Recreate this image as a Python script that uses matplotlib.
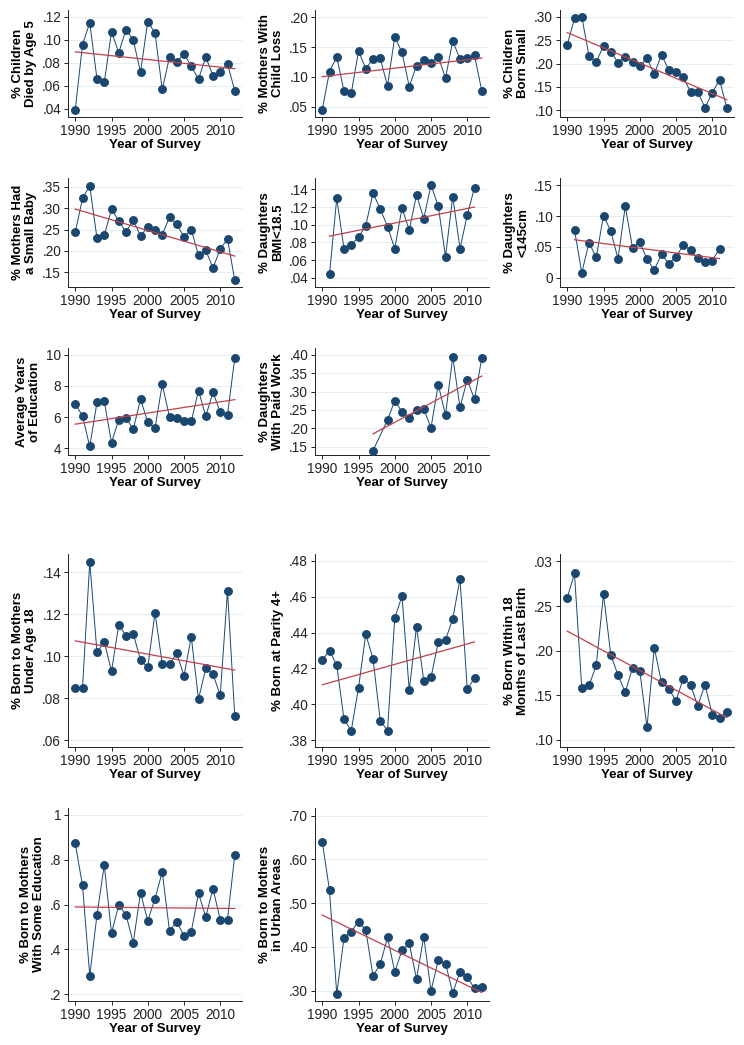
import numpy as np
import matplotlib
matplotlib.use("Agg")
import matplotlib.pyplot as plt

# tick numbers in the reference are tall and narrow -> narrow face;
# the bold titles are regular width
plt.rcParams["font.family"] = ["Liberation Sans Narrow", "Liberation Sans", "DejaVu Sans"]
BOLD_FAMILY = ["Liberation Sans", "DejaVu Sans"]

NAVY = "#1a476f"
FIT_RED = "#c0414a"
GRID = "#e6eef0"

YEARS_FULL = list(range(1990, 2013))     # 1990-2012
YEARS_91_11 = list(range(1991, 2012))    # 1991-2011
YEARS_90_11 = list(range(1990, 2012))    # 1990-2011
YEARS_WORK = [1997] + list(range(1999, 2013))

died_age5 = [.039, .096, .115, .066, .063, .107, .089, .109, .100, .072, .116, .106,
             .057, .085, .081, .088, .077, .066, .085, .069, .072, .079, .056]
child_loss = [.045, .109, .134, .076, .073, .143, .114, .130, .131, .085, .167, .141,
              .084, .119, .128, .124, .134, .098, .160, .130, .132, .136, .077]
born_small = [.240, .297, .301, .216, .203, .238, .225, .202, .215, .203, .194, .211,
              .177, .219, .186, .182, .171, .139, .139, .105, .137, .165, .105]
small_baby = [.243, .323, .353, .229, .236, .298, .270, .244, .272, .235, .256, .250,
              .238, .279, .262, .233, .250, .189, .201, .160, .204, .228, .131]
bmi_low = [.044, .130, .073, .077, .086, .099, .136, .118, .098, .073, .119, .094,
           .134, .107, .145, .121, .064, .132, .073, .111, .142]
short_145 = [.078, .008, .057, .033, .101, .076, .031, .116, .049, .058, .030, .013,
             .038, .023, .034, .053, .045, .032, .025, .028, .047]
avg_educ = [6.85, 6.06, 4.10, 6.95, 7.01, 4.35, 5.83, 5.96, 5.20, 7.14, 5.68, 5.29,
            8.11, 6.00, 5.96, 5.72, 5.72, 7.70, 6.06, 7.59, 6.32, 6.15, 9.80]
paid_work = [.140, .223, .275, .245, .228, .250, .252, .202, .319, .236, .394, .257,
             .332, .279, .390]

under_18 = [.0847, .0848, .1448, .1017, .1068, .0928, .1149, .1097, .1107, .0981, .0946, .1206,
            .0963, .0960, .1013, .0906, .1092, .0795, .0941, .0914, .0813, .1311, .0715]
parity4 = [.4247, .4299, .4217, .3916, .3853, .4091, .4391, .4255, .3908, .3853, .4482, .4604,
           .4078, .4433, .4131, .4150, .4345, .4360, .4476, .4701, .4085, .4145]
within_18m = [.2594, .2865, .1579, .1610, .1835, .2635, .1955, .1726, .1534, .1805, .1775, .1143,
              .2033, .1646, .1571, .1440, .1688, .1620, .1380, .1620, .1282, .1244, .1312]
some_educ = [.872, .685, .283, .554, .776, .473, .597, .554, .430, .652, .528, .626,
             .745, .482, .524, .460, .479, .650, .545, .671, .531, .533, .819]
urban = [.641, .529, .292, .421, .435, .458, .439, .334, .360, .422, .343, .392,
         .408, .327, .423, .300, .369, .362, .295, .343, .331, .305, .308]

# (title lines, years, values, ytick values, ytick labels, ylim)
panels = [
    ("% Children\nDied by Age 5", YEARS_FULL, died_age5,
     [.04, .06, .08, .10, .12], [".04", ".06", ".08", ".10", ".12"], (.033, .126)),
    ("% Mothers With\nChild Loss", YEARS_FULL, child_loss,
     [.05, .10, .15, .20], [".05", ".10", ".15", ".20"], (.033, .212)),
    ("% Children\nBorn Small", YEARS_FULL, born_small,
     [.10, .15, .20, .25, .30], [".10", ".15", ".20", ".25", ".30"], (.085, .315)),
    ("% Mothers Had\na Small Baby", YEARS_FULL, small_baby,
     [.15, .20, .25, .30, .35], [".15", ".20", ".25", ".30", ".35"], (.115, .371)),
    ("% Daughters\nBMI<18.5", YEARS_91_11, bmi_low,
     [.04, .06, .08, .10, .12, .14], [".04", ".06", ".08", ".10", ".12", ".14"], (.0295, .153)),
    ("% Daughters\n<145cm", YEARS_91_11, short_145,
     [0, .05, .10, .15], ["0", ".05", ".10", ".15"], (-.015, .162)),
    ("Average Years\nof Education", YEARS_FULL, avg_educ,
     [4, 6, 8, 10], ["4", "6", "8", "10"], (3.55, 10.45)),
    ("% Daughters\nWith Paid Work", YEARS_WORK, paid_work,
     [.15, .20, .25, .30, .35, .40], [".15", ".20", ".25", ".30", ".35", ".40"], (.128, .418)),
    ("% Born to Mothers\nUnder Age 18", YEARS_FULL, under_18,
     [.06, .08, .10, .12, .14], [".06", ".08", ".10", ".12", ".14"], (.0567, .1486)),
    ("% Born at Parity 4+", YEARS_90_11, parity4,
     [.38, .40, .42, .44, .46, .48], [".38", ".40", ".42", ".44", ".46", ".48"], (.3761, .4839)),
    ("% Born Within 18\nMonths of Last Birth", YEARS_FULL, within_18m,
     [.10, .15, .20, .25, .30], [".10", ".15", ".20", ".25", ".03"], (.0921, .3083)),
    ("% Born to Mothers\nWith Some Education", YEARS_FULL, some_educ,
     [.2, .4, .6, .8, 1.0], [".2", ".4", ".6", ".8", "1"], (.17, 1.03)),
    ("% Born to Mothers\nin Urban Areas", YEARS_FULL, urban,
     [.30, .40, .50, .60, .70], [".30", ".40", ".50", ".60", ".70"], (.2763, .7176)),
]

W, H = 744, 1045
fig = plt.figure(figsize=(W / 100, H / 100), dpi=100)
fig.patch.set_facecolor("white")

col_left = [68, 315, 560]
ax_w = 174
rows = [(10, 117), (178, 287), (348, 455), (554, 747), (808, 1001)]
slots = [(0, 0), (0, 1), (0, 2), (1, 0), (1, 1), (1, 2), (2, 0), (2, 1),
         (3, 0), (3, 1), (3, 2), (4, 0), (4, 1)]

TICK_FS = 9.8
LAB_FS = 9.5

for (title, yrs, vals, yt, ytl, ylim), (r, c) in zip(panels, slots):
    top, bot = rows[r]
    ax = fig.add_axes([col_left[c] / W, 1 - bot / H, ax_w / W, (bot - top) / H])
    yrs = np.array(yrs)
    vals = np.array(vals)

    ax.plot(yrs, vals, color=NAVY, lw=0.7, marker="o", ms=5.4,
            mfc=NAVY, mec=NAVY, zorder=3)
    b, a = np.polyfit(yrs, vals, 1)
    ax.plot(yrs[[0, -1]], a + b * yrs[[0, -1]], color=FIT_RED, lw=0.9, zorder=4)

    ax.set_xlim(1989, 2013)
    ax.set_ylim(*ylim)
    ax.set_xticks([1990, 1995, 2000, 2005, 2010])
    ax.set_yticks(yt)
    ax.set_yticklabels(ytl)
    ax.grid(axis="y", color=GRID, lw=0.7)
    ax.set_axisbelow(True)
    for s in ["top", "right"]:
        ax.spines[s].set_visible(False)
    for s in ["left", "bottom"]:
        ax.spines[s].set_color("#222222")
        ax.spines[s].set_linewidth(0.7)
    ax.tick_params(axis="both", labelsize=TICK_FS, colors="#222222",
                   length=3, width=0.7, pad=2)
    ax.set_ylabel(title, fontsize=LAB_FS, fontweight="bold", family=BOLD_FAMILY,
                  linespacing=1.1, labelpad=3.5)
    ax.set_xlabel("Year of Survey", fontsize=LAB_FS, fontweight="bold",
                  family=BOLD_FAMILY, labelpad=1)

fig.savefig("out.png", dpi=100, facecolor="white")
